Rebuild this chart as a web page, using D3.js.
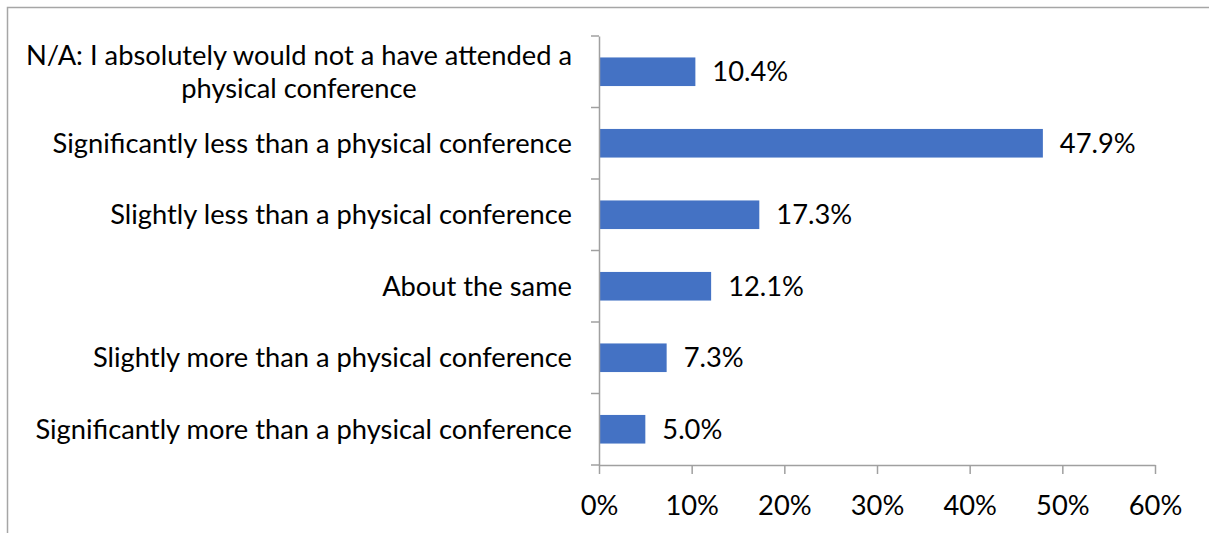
<!DOCTYPE html>
<html><head><meta charset="utf-8">
<script src="https://cdn.jsdelivr.net/npm/d3@7"></script>
<style>html,body{margin:0;padding:0;background:#fff;}svg{display:block;}</style>
</head><body>
<svg id="chart" width="1209" height="533"></svg>
<script>
const categories = [
  ["N/A: I absolutely would not a have attended a", "physical conference"],
  ["Significantly less than a physical conference"],
  ["Slightly less than a physical conference"],
  ["About the same"],
  ["Slightly more than a physical conference"],
  ["Significantly more than a physical conference"]
];
const values = [10.4, 47.9, 17.3, 12.1, 7.3, 5.0];
const xTicks = [0, 10, 20, 30, 40, 50, 60];

const svg = d3.select("#chart");
const font = "Lato, 'Open Sans', sans-serif";
const fs = 27.3;
const m = {left: 599, right: 1155, top: 36, bottom: 465};

// border
svg.append("path").attr("d", "M7.5,533 V7.5 H1209").attr("fill", "none").attr("stroke", "#a6a6a6").attr("stroke-width", 1.5);

const x = d3.scaleLinear().domain([0, 60]).range([m.left, m.right]);
const idx = d3.range(categories.length);
const y = d3.scaleBand().domain(idx).range([m.top, m.bottom]).paddingInner(0.6).paddingOuter(0.3);

svg.selectAll("rect.bar").data(idx).enter().append("rect")
  .attr("class", "bar")
  .attr("x", x(0)).attr("y", i => y(i))
  .attr("width", i => x(values[i]) - x(0)).attr("height", y.bandwidth())
  .attr("fill", "#4472C4");

// data labels
svg.selectAll("text.val").data(idx).enter().append("text")
  .attr("class", "val")
  .attr("x", i => x(values[i]) + 17).attr("y", i => y(i) + y.bandwidth() / 2)
  .attr("dy", "0.35em")
  .attr("font-family", font).attr("font-size", fs).attr("fill", "#000")
  .text(i => values[i].toFixed(1) + "%");

// x axis
const xAxis = d3.axisBottom(x).tickValues(xTicks).tickFormat(d => d + "%").tickSize(9).tickSizeOuter(0);
const gx = svg.append("g").attr("transform", `translate(0,${m.bottom})`).call(xAxis);
gx.select(".domain").attr("stroke", "#a0a0a0").attr("stroke-width", 1.5);
gx.selectAll(".tick line").attr("stroke", "#a0a0a0").attr("stroke-width", 1.5);
gx.selectAll(".tick text").attr("font-family", font).attr("font-size", fs).attr("fill", "#000").attr("dy", "0").attr("y", 50);

// y axis
const yAxis = d3.axisLeft(y).tickValues([]).tickSizeOuter(0);
const gy = svg.append("g").attr("transform", `translate(${m.left},0)`).call(yAxis);
gy.select(".domain").attr("stroke", "#a0a0a0").attr("stroke-width", 1.5);
const bounds = d3.range(categories.length + 1).map(i => m.top + i * (m.bottom - m.top) / categories.length);
gy.selectAll("line.bt").data(bounds).enter().append("line")
  .attr("class", "bt").attr("x1", -8).attr("x2", 0).attr("y1", d => d).attr("y2", d => d)
  .attr("stroke", "#a0a0a0").attr("stroke-width", 1.5);

// category labels
const labelRight = 572;
const lh = 33;
idx.forEach(i => {
  const lines = categories[i];
  const g = svg.append("g");
  const cy = y(i) + y.bandwidth() / 2;
  const texts = lines.map((l, k) => g.append("text")
    .attr("font-family", font).attr("font-size", fs).attr("fill", "#000")
    .attr("y", cy + (k - (lines.length - 1) / 2) * lh).attr("dy", "0.35em")
    .attr("text-anchor", "middle").text(l));
  const maxW = d3.max(texts, t => t.node().getComputedTextLength());
  texts.forEach(t => t.attr("x", labelRight - maxW / 2));
});
</script>
</body></html>
